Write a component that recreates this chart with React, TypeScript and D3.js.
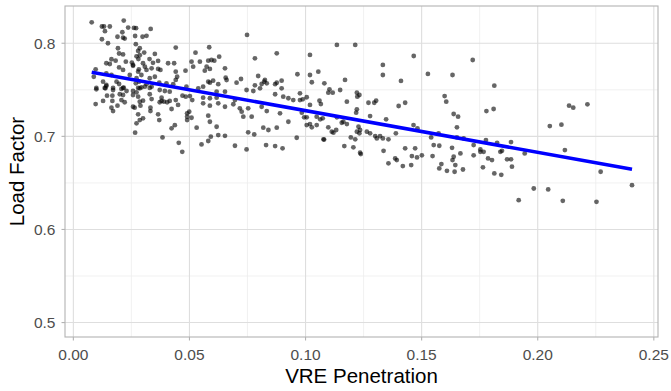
import React, { useEffect, useRef } from 'react';
import * as d3 from 'd3';

// [VRE penetration, load factor]
const observations: [number, number][] = [
  [0.0079, 0.8225], [0.0123, 0.818], [0.0132, 0.818], [0.0157, 0.818], [0.0217, 0.8243], [0.0236, 0.8168],
  [0.0261, 0.8165], [0.027, 0.8162], [0.0333, 0.8154], [0.0298, 0.807], [0.0315, 0.808], [0.0211, 0.8118],
  [0.019, 0.807], [0.0214, 0.806], [0.0221, 0.805], [0.0136, 0.813], [0.0123, 0.8043], [0.0149, 0.8],
  [0.0266, 0.8078], [0.0269, 0.799], [0.0192, 0.7946], [0.0286, 0.7946], [0.0279, 0.7917], [0.0441, 0.7953],
  [0.0197, 0.789], [0.0214, 0.788], [0.0305, 0.79], [0.0351, 0.7885], [0.0164, 0.7828], [0.0182, 0.7813],
  [0.0272, 0.786], [0.0286, 0.7871], [0.0142, 0.7785], [0.0157, 0.7777], [0.0226, 0.7802], [0.0252, 0.7792],
  [0.0257, 0.7767], [0.028, 0.783], [0.03, 0.7785], [0.0328, 0.783], [0.0343, 0.779], [0.0365, 0.781],
  [0.0408, 0.7785], [0.0434, 0.7785], [0.0197, 0.774], [0.0214, 0.7713], [0.0257, 0.7757], [0.0282, 0.772],
  [0.0279, 0.7695], [0.0308, 0.7748], [0.0315, 0.7713], [0.0337, 0.7731], [0.0365, 0.7724], [0.0375, 0.7713],
  [0.0441, 0.7695], [0.0447, 0.764], [0.0096, 0.772], [0.0142, 0.7677], [0.0164, 0.7659], [0.0243, 0.7659],
  [0.0272, 0.7624], [0.0293, 0.7659], [0.0329, 0.7624], [0.0351, 0.764], [0.0088, 0.764], [0.0128, 0.7587],
  [0.0142, 0.7552], [0.0186, 0.7587], [0.0197, 0.7562], [0.0269, 0.757], [0.0283, 0.7587], [0.0315, 0.756],
  [0.0337, 0.7533], [0.037, 0.7576], [0.0401, 0.757], [0.043, 0.756], [0.0441, 0.7606], [0.0099, 0.752],
  [0.0135, 0.752], [0.0171, 0.752], [0.0214, 0.752], [0.0279, 0.752], [0.0293, 0.7525], [0.0329, 0.752],
  [0.0099, 0.7505], [0.0138, 0.7516], [0.0142, 0.754], [0.0171, 0.7498], [0.0207, 0.7509], [0.0217, 0.7523],
  [0.0229, 0.7487], [0.0257, 0.7487], [0.0272, 0.7473], [0.0286, 0.7516], [0.0308, 0.7533], [0.0329, 0.7452],
  [0.0372, 0.7498], [0.0394, 0.7487], [0.0415, 0.748], [0.0145, 0.7437], [0.0168, 0.7437], [0.02, 0.7452],
  [0.0214, 0.7444], [0.0257, 0.7444], [0.0279, 0.7426], [0.0337, 0.74], [0.038, 0.7415], [0.038, 0.738],
  [0.0128, 0.738], [0.0168, 0.738], [0.0207, 0.739], [0.0221, 0.7366], [0.0286, 0.7372], [0.03, 0.7383],
  [0.0372, 0.7366], [0.039, 0.7372], [0.0404, 0.7366], [0.0415, 0.738], [0.0441, 0.739], [0.0096, 0.7347],
  [0.019, 0.7329], [0.0164, 0.7308], [0.0171, 0.7272], [0.0257, 0.7318], [0.0264, 0.7308], [0.0289, 0.7329],
  [0.0332, 0.7308], [0.0332, 0.7272], [0.0423, 0.7294], [0.0451, 0.7337], [0.047, 0.7437], [0.0484, 0.7426],
  [0.049, 0.7247], [0.049, 0.7211], [0.049, 0.7175], [0.0499, 0.7265], [0.0279, 0.7237], [0.0365, 0.7237],
  [0.037, 0.7175], [0.03, 0.7194], [0.0286, 0.7175], [0.0272, 0.714], [0.0437, 0.712], [0.0423, 0.7086],
  [0.0266, 0.7039], [0.0384, 0.6989], [0.0454, 0.6931], [0.0469, 0.6834],
  [0.0748, 0.8089], [0.0585, 0.7957], [0.0876, 0.7892], [0.0526, 0.7899], [0.0782, 0.7838], [0.0628, 0.7856],
  [0.0509, 0.7802], [0.0545, 0.7802], [0.0581, 0.7813], [0.0595, 0.782], [0.0607, 0.7813], [0.0516, 0.7748],
  [0.0574, 0.7748], [0.0588, 0.7724], [0.0483, 0.7705], [0.0566, 0.7705], [0.0653, 0.7731], [0.0965, 0.7667],
  [0.0796, 0.7648], [0.0656, 0.763], [0.066, 0.7605], [0.0722, 0.7616], [0.0703, 0.7576], [0.0897, 0.7598],
  [0.0876, 0.7576], [0.0869, 0.756], [0.0825, 0.7606], [0.0822, 0.7587], [0.0833, 0.757], [0.0811, 0.7562],
  [0.0782, 0.7548], [0.0581, 0.7587], [0.0602, 0.7598], [0.0624, 0.756], [0.0559, 0.7533], [0.0588, 0.7576],
  [0.0487, 0.7533],
  [0.0502, 0.7433], [0.0512, 0.739], [0.0559, 0.7415], [0.0559, 0.7355], [0.0538, 0.7516], [0.0588, 0.7409],
  [0.0588, 0.7329], [0.0617, 0.748], [0.0617, 0.7415], [0.0624, 0.7355], [0.0653, 0.748], [0.0653, 0.7318],
  [0.0689, 0.7345], [0.0696, 0.739], [0.0717, 0.7301], [0.0725, 0.7265], [0.0732, 0.7211], [0.0753, 0.7301],
  [0.0768, 0.7211], [0.0746, 0.7498], [0.0775, 0.7487], [0.0804, 0.7516], [0.0811, 0.7318], [0.0833, 0.7272],
  [0.0869, 0.7452], [0.0897, 0.7516], [0.0904, 0.7426], [0.0926, 0.7409], [0.0947, 0.739], [0.0976, 0.739],
  [0.089, 0.7247], [0.0926, 0.7157], [0.0509, 0.72], [0.0581, 0.7222], [0.0588, 0.7157], [0.0617, 0.7103],
  [0.0531, 0.7093], [0.0624, 0.7014], [0.0653, 0.7006], [0.0592, 0.6996], [0.0581, 0.695], [0.0552, 0.6913],
  [0.0696, 0.6899], [0.0753, 0.7043], [0.0779, 0.7021], [0.0818, 0.7093], [0.084, 0.7068], [0.0876, 0.7093],
  [0.083, 0.6906], [0.0869, 0.6896], [0.0746, 0.686], [0.0901, 0.6871], [0.0962, 0.6985],
  [0.1135, 0.7982], [0.1214, 0.7982], [0.1019, 0.7874], [0.1466, 0.7863], [0.1333, 0.7767], [0.1333, 0.7659],
  [0.1019, 0.7659], [0.1055, 0.7695], [0.1027, 0.7581], [0.117, 0.7606], [0.1411, 0.7595], [0.1081, 0.757],
  [0.1098, 0.7469], [0.1117, 0.7469], [0.1103, 0.7505], [0.1149, 0.7498], [0.1221, 0.7469], [0.1232, 0.7444],
  [0.1223, 0.7426], [0.1005, 0.742], [0.0988, 0.7398], [0.106, 0.7383], [0.1066, 0.7347], [0.1178, 0.7372],
  [0.1271, 0.7361], [0.1296, 0.7361], [0.1304, 0.7383], [0.1401, 0.7326], [0.1429, 0.7361], [0.1221, 0.729],
  [0.1218, 0.7254], [0.1019, 0.7337], [0.0976, 0.7462], [0.0984, 0.7254], [0.1005, 0.7204], [0.0994, 0.7204],
  [0.1048, 0.7211], [0.1063, 0.7183], [0.1074, 0.7194], [0.1135, 0.7204], [0.1156, 0.7146], [0.1178, 0.7132],
  [0.1163, 0.7157], [0.1278, 0.7218], [0.1347, 0.7183], [0.1005, 0.7121], [0.1027, 0.7097], [0.1048, 0.7121],
  [0.1019, 0.7132], [0.1098, 0.7097], [0.1113, 0.705], [0.1132, 0.7068], [0.112, 0.7039], [0.1228, 0.7103],
  [0.1235, 0.7068], [0.1232, 0.7032], [0.1221, 0.705], [0.1264, 0.705], [0.1278, 0.7032], [0.13, 0.7003],
  [0.1321, 0.7003], [0.1333, 0.6978], [0.1357, 0.6968], [0.1307, 0.6978], [0.1389, 0.7032], [0.1077, 0.6968],
  [0.108, 0.6965], [0.1195, 0.6989], [0.1214, 0.6968], [0.1167, 0.6896], [0.1206, 0.6882], [0.1235, 0.6824],
  [0.1238, 0.681], [0.1336, 0.6845], [0.1429, 0.6871], [0.1472, 0.6871], [0.1458, 0.6788], [0.148, 0.6774],
  [0.1386, 0.6763], [0.1393, 0.6745], [0.1357, 0.671], [0.1419, 0.6681], [0.1455, 0.6691], [0.1465, 0.7121],
  [0.1482, 0.7086],
  [0.172, 0.782], [0.1527, 0.767], [0.1633, 0.7659], [0.1813, 0.7544], [0.1599, 0.7433], [0.1606, 0.7372],
  [0.1779, 0.7272], [0.181, 0.7294], [0.1638, 0.724], [0.1657, 0.7211], [0.1652, 0.7097], [0.1573, 0.7032],
  [0.1541, 0.6989], [0.1652, 0.6989], [0.1681, 0.6978], [0.1777, 0.696], [0.1825, 0.6931], [0.1885, 0.6939],
  [0.1552, 0.6906], [0.1576, 0.6899], [0.1724, 0.6906], [0.1631, 0.6877], [0.1753, 0.686], [0.1767, 0.6834],
  [0.1753, 0.6834], [0.1839, 0.6834], [0.1846, 0.6845], [0.1501, 0.6796], [0.1547, 0.6788], [0.1667, 0.6817],
  [0.1724, 0.6796], [0.1786, 0.6763], [0.1803, 0.6745], [0.1868, 0.6753], [0.1885, 0.6753], [0.1944, 0.6817],
  [0.1889, 0.6674], [0.1638, 0.6781], [0.1633, 0.6745], [0.1645, 0.6691], [0.1585, 0.6702], [0.1576, 0.6656],
  [0.1609, 0.663], [0.1642, 0.662], [0.1678, 0.6644], [0.1764, 0.6667], [0.1813, 0.6602], [0.1843, 0.6587],
  [0.1983, 0.644], [0.1918, 0.6315],
  [0.2135, 0.7329], [0.2153, 0.7308], [0.2214, 0.7344], [0.2052, 0.711], [0.2102, 0.7125], [0.2117, 0.6853],
  [0.2271, 0.662], [0.2406, 0.6476], [0.2045, 0.643], [0.2108, 0.6308], [0.2253, 0.6297],
];

const xTicks = [0, 0.05, 0.1, 0.15, 0.2, 0.25];
const xMinorTicks = [0.025, 0.075, 0.125, 0.175, 0.225];
const yTicks = [0.5, 0.6, 0.7, 0.8];
const yMinorTicks = [0.55, 0.65, 0.75];

// linear fit
const fitIntercept = 0.7724;
const fitSlope = -0.448;

const font = "'Liberation Sans', Arial, Helvetica, sans-serif";

export default function App() {
  const ref = useRef<SVGSVGElement>(null);

  useEffect(() => {
    const width = 671;
    const height = 391;
    const left = 65, right = 658, top = 6, bottom = 337;

    const svg = d3.select(ref.current);
    svg.selectAll('*').remove();
    svg.attr('width', width).attr('height', height);

    svg.append('rect').attr('width', width).attr('height', height).attr('fill', '#fff');

    const x = d3.scaleLinear().domain([-0.0036, 0.2518]).range([left, right]);
    const y = d3.scaleLinear().domain([0.4845, 0.84]).range([bottom, top]);

    const grid = svg.append('g');
    // minor grid
    grid.append('g').selectAll('line').data(xMinorTicks).join('line')
      .attr('x1', d => x(d)).attr('x2', d => x(d)).attr('y1', top).attr('y2', bottom)
      .attr('stroke', '#ededed').attr('stroke-width', 0.8);
    grid.append('g').selectAll('line').data(yMinorTicks).join('line')
      .attr('y1', d => y(d)).attr('y2', d => y(d)).attr('x1', left).attr('x2', right)
      .attr('stroke', '#ededed').attr('stroke-width', 0.8);
    // major grid
    grid.append('g').selectAll('line').data(xTicks).join('line')
      .attr('x1', d => x(d)).attr('x2', d => x(d)).attr('y1', top).attr('y2', bottom)
      .attr('stroke', '#dedede').attr('stroke-width', 1.1);
    grid.append('g').selectAll('line').data(yTicks).join('line')
      .attr('y1', d => y(d)).attr('y2', d => y(d)).attr('x1', left).attr('x2', right)
      .attr('stroke', '#dedede').attr('stroke-width', 1.1);

    svg.append('g').selectAll('circle').data(observations).join('circle')
      .attr('cx', d => x(d[0]))
      .attr('cy', d => y(d[1]))
      .attr('r', 2.4)
      .attr('fill', '#000')
      .attr('fill-opacity', 0.6);

    const [xMin, xMax] = d3.extent(observations, d => d[0]) as [number, number];
    const fit = [xMin, xMax].map(v => [v, fitIntercept + fitSlope * v] as [number, number]);
    svg.append('path')
      .attr('d', d3.line<[number, number]>().x(d => x(d[0])).y(d => y(d[1]))(fit))
      .attr('fill', 'none')
      .attr('stroke', '#0000ff')
      .attr('stroke-width', 3.6);

    // panel border
    svg.append('rect')
      .attr('x', left).attr('y', top).attr('width', right - left).attr('height', bottom - top)
      .attr('fill', 'none').attr('stroke', '#b3b3b3').attr('stroke-width', 1.1);

    // ticks
    svg.append('g').selectAll('line').data(xTicks).join('line')
      .attr('x1', d => x(d)).attr('x2', d => x(d)).attr('y1', bottom).attr('y2', bottom + 3.5)
      .attr('stroke', '#b3b3b3').attr('stroke-width', 1.1);
    svg.append('g').selectAll('line').data(yTicks).join('line')
      .attr('y1', d => y(d)).attr('y2', d => y(d)).attr('x1', left - 3.5).attr('x2', left)
      .attr('stroke', '#b3b3b3').attr('stroke-width', 1.1);

    svg.append('g').selectAll('text').data(xTicks).join('text')
      .attr('x', d => x(d)).attr('y', 359.5)
      .attr('text-anchor', 'middle')
      .attr('font-family', font).attr('font-size', 15.5).attr('fill', '#4d4d4d')
      .text(d => d3.format('.2f')(d));
    svg.append('g').selectAll('text').data(yTicks).join('text')
      .attr('x', left - 9.5).attr('y', d => y(d)).attr('dy', '0.36em')
      .attr('text-anchor', 'end')
      .attr('font-family', font).attr('font-size', 15.5).attr('fill', '#4d4d4d')
      .text(d => d3.format('.1f')(d));

    svg.append('text')
      .attr('x', (left + right) / 2).attr('y', 383)
      .attr('text-anchor', 'middle')
      .attr('font-family', font).attr('font-size', 20.5).attr('fill', '#000')
      .text('VRE Penetration');
    svg.append('text')
      .attr('transform', `translate(23.5,${(top + bottom) / 2}) rotate(-90)`)
      .attr('text-anchor', 'middle')
      .attr('font-family', font).attr('font-size', 20.5).attr('fill', '#000')
      .text('Load Factor');
  }, []);

  return <svg ref={ref} style={{ position: 'absolute', left: 0, top: 0, display: 'block' }} />;
}
